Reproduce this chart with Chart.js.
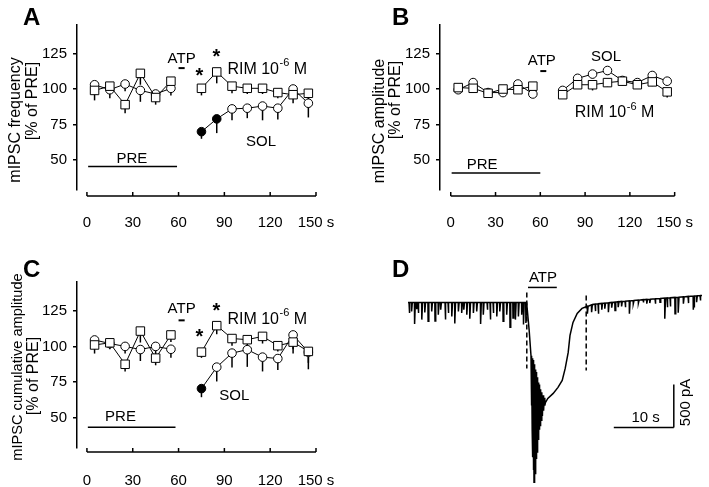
<!DOCTYPE html>
<html>
<head>
<meta charset="utf-8">
<script src="https://cdn.jsdelivr.net/npm/chart.js@4.4.1/dist/chart.umd.min.js"></script>
<style>
  body { margin: 0; background: #fff; width: 709px; height: 487px; position: relative; overflow: hidden; }
  canvas { position: absolute; }
</style>
</head>
<body>
<canvas id="panelA" width="355" height="240" style="left:0;top:0"></canvas>
<canvas id="panelB" width="349" height="240" style="left:360px;top:0"></canvas>
<canvas id="panelC" width="355" height="247" style="left:0;top:240px"></canvas>
<canvas id="panelD" width="319" height="247" style="left:390px;top:240px"></canvas>
<script>
const FONT = '"Liberation Sans", Arial, sans-serif';

// time bins (s); 65 s is the ATP gap
const BINS = [5, 15, 25, 35, 45, 55, 65, 75, 85, 95, 105, 115, 125, 135, 145];
const X_TICKS = [0, 30, 60, 90, 120, 150];
const Y_TICKS = [50, 75, 100, 125];

// A: mIPSC frequency (% of PRE)
const freqRim = [99, 102, 89, 111, 94, 105.5, null, 100.5, 112, 102, 100.5, 100.5, 97.5, 96, 97];
const freqRimErr = [7, 5, 6, 8, 5, 5, null, 5, 8, 5, 4, 4, 4, 6, 5];
const freqSol = [103, 99.5, 103.5, 99, 96.5, 100.5, null, 70, 79, 86, 86.5, 88, 86.5, 100, 90];
const freqSolErr = [6, 6, 5, 8, 5, 5, null, 5, 10, 8, 7, 10, 8, 6, 10];
const freqSolFilled = [75, 85];

// B: mIPSC amplitude (% of PRE)
const ampSol = [99.5, 104.5, 97.5, 97.5, 103.5, 96.5, null, 99, 107.5, 110.5, 113, 106, 104.5, 109.5, 105.5];
const ampSolErr = [2, 2, 2, 2, 2, 2, null, 2, 3, 3, 3, 3, 2, 3, 3];
const ampRim = [101, 100.5, 97, 100, 99.5, 102, null, 96, 103, 103, 104.5, 105.5, 103, 105, 98];
const ampRimErr = [2, 2, 2, 2, 2, 2, null, 3, 3, 4, 3, 3, 2, 3, 4];

// C: mIPSC cumulative amplitude (% of PRE)
const cumRim = [101, 102.5, 87.5, 110.7, 91.8, 108, null, 96, 114.5, 105.5, 104.7, 107, 100.5, 103, 96.5];
const cumRimErr = [6, 4, 5, 8, 5, 5, null, 4, 6, 5, 6, 5, 4, 8, 8];
const cumSol = [104.5, 102, 100, 97.8, 100, 98, null, 70.5, 85.5, 95.3, 97.7, 92.5, 91.5, 108, 96];
const cumSolErr = [4, 4, 5, 8, 6, 6, null, 6, 10, 10, 12, 10, 8, 10, 12];
const cumSolFilled = [75];

// D: current trace, [time s, current pA]
const traceKnots = [[0, 0], [19.8, 0], [20.2, -330], [20.5, -620]];
const traceOsc = [
  [20.55, -640], [20.6, -1200], [20.65, -660], [20.7, -1500], [20.75, -650], [20.8, -1800],
  [20.85, -670], [20.9, -1950], [20.95, -690], [21.0, -2090], [21.05, -720], [21.1, -2050],
  [21.15, -750], [21.2, -1990], [21.25, -780], [21.3, -1900], [21.35, -810], [21.4, -1820],
  [21.45, -840], [21.5, -1740], [21.55, -870], [21.6, -1660], [21.65, -900], [21.7, -1590],
  [21.75, -930], [21.8, -1530], [21.85, -955], [21.9, -1480], [21.95, -980], [22.0, -1430],
  [22.1, -1010], [22.2, -1370], [22.3, -1045], [22.4, -1320], [22.5, -1080], [22.6, -1260],
  [22.7, -1110], [22.8, -1200]
];
const traceRecovery = [
  [22.9, -1165], [23.3, -1116], [24.2, -1058], [25.0, -988], [25.7, -907], [26.2, -768],
  [26.7, -582], [27.0, -384], [27.5, -233], [28.2, -128], [29.0, -70], [29.8, -47],
  [30.8, -23], [35, 8], [40, 35], [45, 58], [49, 81]
];
// spontaneous events before ATP: [time, amplitude pA]
const spikesPre = [
  [0.2, 124], [0.6, 105], [1.1, 250], [1.45, 80], [1.7, 124], [2.3, 200], [2.8, 116], [3.35, 220],
  [3.95, 105], [4.5, 215], [5.05, 143], [5.45, 85], [6.2, 200], [6.7, 124], [7.3, 163], [7.8, 244],
  [8.4, 105], [8.95, 124], [9.3, 85], [9.8, 143], [10.3, 190], [10.9, 124], [11.45, 105], [12.1, 250],
  [12.55, 143], [13.2, 85], [13.7, 200], [14.2, 124], [14.8, 163], [15.3, 105], [15.85, 220],
  [16.45, 143], [17.0, 290], [17.5, 182], [17.9, 200], [18.4, 163], [18.95, 143], [19.25, 256], [19.65, 240]
];
// events after ATP: [time, base pA, peak pA]
const spikesPost = [
  [29.9, -45, -131], [30.6, -28, -113], [31.2, -20, -101], [31.7, -16, -131], [32.3, -12, -85],
  [32.8, -8, -74], [33.4, -4, -113], [33.95, 0, -62], [34.5, 3, -93], [35.05, 8, -55], [35.6, 11, -47],
  [36.2, 14, -55], [36.9, 18, -131], [37.55, 22, -15], [38.4, 27, -8], [39.2, 32, 0], [39.8, 35, -15],
  [40.3, 37, -8], [41.2, 42, -15], [42.0, 46, 3], [42.8, 50, -190], [43.2, 52, -55], [43.7, 54, -47],
  [44.5, 58, -131], [45.05, 60, -120], [45.9, 65, -15], [46.7, 70, -8], [47.55, 74, -85],
  [47.7, 75, -60], [48.1, 77, 3], [48.7, 80, 23]
];
// dashed markers: [time, top pA, bottom pA]
const markers = [[19.8, 116, -768], [29.7, 81, -791]];
const atpTimes = [20, 24.8];
const scaleSec = 10;
const scalePA = 500;

function drawText(ctx, str, x, y, size, opts = {}) {
  ctx.save();
  ctx.font = `${opts.bold ? "bold " : ""}${size}px ${FONT}`;
  ctx.fillStyle = "#000";
  ctx.textAlign = opts.align || "center";
  ctx.textBaseline = opts.baseline || "middle";
  ctx.fillText(str, x, y);
  ctx.restore();
}

function drawLine(ctx, x1, y1, x2, y2, w, dash) {
  ctx.save();
  ctx.strokeStyle = "#000";
  ctx.lineWidth = w;
  if (dash) ctx.setLineDash(dash);
  ctx.beginPath();
  ctx.moveTo(x1, y1);
  ctx.lineTo(x2, y2);
  ctx.stroke();
  ctx.restore();
}

function drawRim(ctx, x, y) {
  ctx.save();
  ctx.fillStyle = "#000";
  ctx.textBaseline = "middle";
  ctx.textAlign = "left";
  ctx.font = `16px ${FONT}`;
  ctx.fillText("RIM 10", x, y);
  let w = ctx.measureText("RIM 10").width;
  ctx.font = `11px ${FONT}`;
  ctx.fillText("-6", x + w + 0.5, y - 6);
  w += ctx.measureText("-6").width + 0.5;
  ctx.font = `16px ${FONT}`;
  ctx.fillText(" M", x + w, y);
  ctx.restore();
}

function panelPlugin(cfg) {
  return {
    id: "panelDeco",
    beforeDatasetsDraw(chart) {
      const ctx = chart.ctx;
      const xs = chart.scales.x;
      const ys = chart.scales.y;
      chart.data.datasets.forEach((ds) => {
        ds.data.forEach((p, i) => {
          if (p.y === null || !ds.errors[i]) return;
          const x = xs.getPixelForValue(p.x);
          drawLine(ctx, x, ys.getPixelForValue(p.y), x, ys.getPixelForValue(p.y - ds.errors[i]), 1.5);
        });
      });
    },
    afterDraw(chart) {
      const ctx = chart.ctx;
      const xs = chart.scales.x;
      const ys = chart.scales.y;
      const px = (v) => xs.getPixelForValue(v);
      const py = (v) => ys.getPixelForValue(v);

      // detached x axis with inward ticks
      const ax = chart.chartArea.bottom + cfg.xGap;
      drawLine(ctx, px(0), ax, px(150), ax, 1.5);
      X_TICKS.forEach((t) => drawLine(ctx, px(t), ax, px(t), ax - 4, 1.5));

      // y titles (rotated)
      cfg.titles.forEach((t) => {
        ctx.save();
        ctx.translate(t.x, t.y);
        ctx.rotate(-Math.PI / 2);
        drawText(ctx, t.text, 0, 0, t.size, { baseline: "alphabetic" });
        ctx.restore();
      });

      drawText(ctx, cfg.letter[0], cfg.letter[1], cfg.letter[2], 24, { bold: true, align: "left", baseline: "alphabetic" });

      cfg.labels.forEach((l) => drawText(ctx, l[0], px(l[1]), py(l[2]), 15));
      cfg.stars.forEach((s) => drawText(ctx, "*", px(s[0]), py(s[1]) + 11, 20, { bold: true, baseline: "alphabetic" }));
      cfg.bars.forEach((b) => drawLine(ctx, px(b[0]), py(b[2]), px(b[1]), py(b[2]), b[3]));
      drawRim(ctx, px(cfg.rim[0]), py(cfg.rim[1]));
    },
  };
}

function seriesDataset(values, errors, style, filled) {
  return {
    data: BINS.map((t, i) => ({ x: t, y: values[i] })),
    errors,
    borderColor: "#000",
    borderWidth: 1,
    pointStyle: style,
    pointRadius: style === "rect" ? 6 : 4.3,
    pointBorderWidth: 1,
    pointBorderColor: "#000",
    pointBackgroundColor: BINS.map((t) => (filled.includes(t) ? "#000" : "#fff")),
    spanGaps: false,
    tension: 0,
  };
}

function renderPanel(canvasId, cfg) {
  const canvas = document.getElementById(canvasId);
  return new Chart(canvas.getContext("2d"), {
    type: "line",
    data: {
      datasets: [
        seriesDataset(cfg.rim_, cfg.rimErr, "rect", []),
        seriesDataset(cfg.sol, cfg.solErr, "circle", cfg.filled),
      ],
    },
    options: {
      responsive: false,
      animation: false,
      layout: { padding: { top: cfg.top, right: cfg.right, left: 0, bottom: 0 } },
      plugins: { legend: { display: false }, tooltip: { enabled: false } },
      scales: {
        x: {
          type: "linear",
          min: cfg.xMin,
          max: 150,
          afterBuildTicks: (s) => { s.ticks = X_TICKS.map((v) => ({ value: v })); },
          afterFit: (s) => { s.height = cfg.xHeight; },
          grid: { display: false },
          border: { display: false },
          ticks: {
            padding: 16,
            color: "#000",
            autoSkip: false,
            maxRotation: 0,
            font: { family: FONT, size: 15 },
            callback: (v) => (v === 150 ? "150 s" : String(v)),
          },
        },
        y: {
          min: 29,
          max: 145,
          afterBuildTicks: (s) => { s.ticks = Y_TICKS.map((v) => ({ value: v })); },
          afterFit: (s) => { s.width = cfg.axisLeft; },
          grid: { drawOnChartArea: false, tickLength: 4, color: "#000", lineWidth: 1.5 },
          border: { color: "#000", width: 1.5 },
          ticks: { padding: 6, color: "#000", font: { family: FONT, size: 15 } },
        },
      },
    },
    plugins: [panelPlugin(cfg)],
  });
}

renderPanel("panelA", {
  rim_: freqRim, rimErr: freqRimErr, sol: freqSol, solErr: freqSolErr, filled: freqSolFilled,
  top: 25, right: 39, xMin: -6.5, xHeight: 50, axisLeft: 77, xGap: 6,
  titles: [
    { text: "mIPSC frequency", x: 20, y: 120, size: 16 },
    { text: "[% of PRE]", x: 37, y: 101, size: 16 },
  ],
  letter: ["A", 23, 25],
  labels: [["ATP", 62, 121], ["SOL", 114, 63], ["PRE", 29.4, 51]],
  stars: [[73.7, 113], [84.8, 126]],
  bars: [[60, 64, 114.7, 2], [0.8, 59, 45.5, 1.5]],
  rim: [92, 114],
});

renderPanel("panelB", {
  rim_: ampRim, rimErr: ampRimErr, sol: ampSol, solErr: ampSolErr, filled: [],
  top: 25, right: 28, xMin: -7.2, xHeight: 50, axisLeft: 80, xGap: 6,
  titles: [
    { text: "mIPSC amplitude", x: 23.5, y: 121, size: 16 },
    { text: "[% of PRE]", x: 39.5, y: 100, size: 16 },
  ],
  letter: ["B", 32, 25],
  labels: [["ATP", 61, 119.6], ["SOL", 104, 122.6], ["PRE", 21, 47]],
  stars: [],
  bars: [[60, 64, 112.6, 2], [0.6, 60, 41, 1.5]],
  rim: [83, 83.2],
});

renderPanel("panelC", {
  rim_: cumRim, rimErr: cumRimErr, sol: cumSol, solErr: cumSolErr, filled: cumSolFilled,
  top: 42, right: 39, xMin: -6.5, xHeight: 39, axisLeft: 77, xGap: 4,
  titles: [
    { text: "mIPSC cumulative amplitude", x: 21.5, y: 127, size: 14.6 },
    { text: "[% of PRE]", x: 38, y: 136, size: 16 },
  ],
  letter: ["C", 23, 37],
  labels: [["ATP", 62, 125.9], ["SOL", 96.5, 65.7], ["PRE", 22, 50.7]],
  stars: [[73.7, 109.8], [84.8, 128]],
  bars: [[60, 64, 118.2, 2], [0.6, 58, 43.5, 1.5]],
  rim: [92, 118.9],
});

// panel D: raw current trace
(function () {
  const points = [];
  traceKnots.concat(traceOsc, traceRecovery).forEach(([t, p]) => points.push({ x: t, y: p }));
  spikesPre.forEach(([t, a]) => points.push({ x: t - 0.03, y: 0 }, { x: t, y: -a }, { x: t + 0.12, y: 0 }));
  spikesPost.forEach(([t, b, p]) => points.push({ x: t - 0.03, y: b }, { x: t, y: p }, { x: t + 0.12, y: b }));
  points.sort((a, b) => a.x - b.x);

  const datasets = [
    { data: points, borderColor: "#000", borderWidth: 1.5, pointRadius: 0, tension: 0 },
  ];
  markers.forEach(([t, top, bottom]) => {
    datasets.push({
      data: [{ x: t, y: top }, { x: t, y: bottom }],
      borderColor: "#000", borderWidth: 1.5, borderDash: [5, 3], pointRadius: 0,
    });
  });

  const deco = {
    id: "traceDeco",
    afterDraw(chart) {
      const ctx = chart.ctx;
      const px = (v) => chart.scales.x.getPixelForValue(v);
      const py = (v) => chart.scales.y.getPixelForValue(v);
      drawText(ctx, "D", 2, 37, 24, { bold: true, align: "left", baseline: "alphabetic" });
      drawText(ctx, "ATP", px(22.5), py(285), 15);
      drawLine(ctx, px(atpTimes[0]), py(174), px(atpTimes[1]), py(174), 1.5);
      const t0 = 34.3;
      const base = -1454;
      drawLine(ctx, px(t0), py(base), px(t0 + scaleSec), py(base), 1.5);
      drawLine(ctx, px(t0 + scaleSec), py(base), px(t0 + scaleSec), py(base + scalePA), 1.5);
      drawText(ctx, scaleSec + " s", px(39.6), py(-1343), 15);
      ctx.save();
      ctx.translate(px(46.3), py(-1163));
      ctx.rotate(-Math.PI / 2);
      drawText(ctx, scalePA + " pA", 0, 0, 15);
      ctx.restore();
    },
  };

  new Chart(document.getElementById("panelD").getContext("2d"), {
    type: "line",
    data: { datasets },
    options: {
      responsive: false,
      animation: false,
      layout: { padding: { left: 18, right: 7, top: 28, bottom: 4 } },
      plugins: { legend: { display: false }, tooltip: { enabled: false } },
      scales: {
        x: { type: "linear", min: 0, max: 49, display: false },
        y: { min: -2100, max: 400, display: false },
      },
    },
    plugins: [deco],
  });
})();
</script>
</body>
</html>
